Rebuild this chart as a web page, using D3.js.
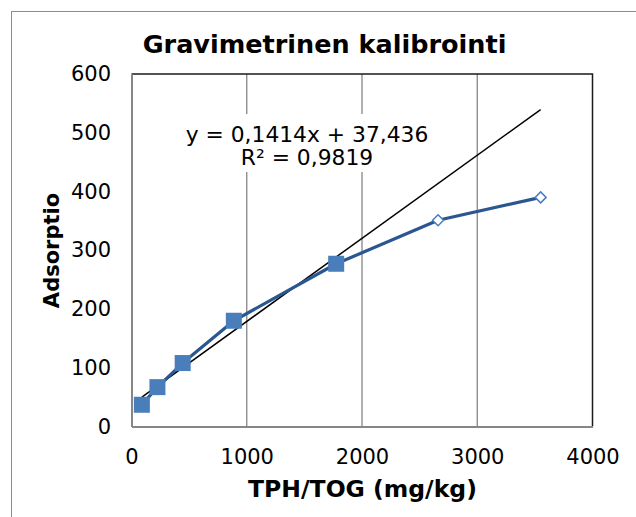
<!DOCTYPE html>
<html><head><meta charset="utf-8">
<script src="https://cdn.jsdelivr.net/npm/d3@7"></script>
<style>html,body{margin:0;padding:0;background:#fff;}svg{display:block;}</style>
</head><body>
<script>
const xValues = [90, 225, 444, 888, 1776, 2660, 3550];
const yValues = [37, 67, 108, 180, 277, 351, 390];
const markerTypes = ["square","square","square","square","square","diamond","diamond"];
const xTicks = [0, 1000, 2000, 3000, 4000];
const yTicks = [0, 100, 200, 300, 400, 500, 600];
const trendSlope = 0.1414, trendIntercept = 37.436;
const equationLines = ["y = 0,1414x + 37,436", "R\u00b2 = 0,9819"];
const title = "Gravimetrinen kalibrointi";
const xTitle = "TPH/TOG (mg/kg)";
const yTitle = "Adsorptio";

const W = 636, H = 517;
const m = {left:131.5, top:74, right:592.5, bottom:426.5};
const svg = d3.select("body").append("svg").attr("width", W).attr("height", H);
const font = "'DejaVu Sans', Verdana, sans-serif";

svg.append("rect").attr("x",0).attr("y",0).attr("width",W).attr("height",H).attr("fill","#fff");
svg.append("rect").attr("x",11.5).attr("y",11.5).attr("width",W).attr("height",H).attr("fill","none").attr("stroke","#8c8c8c").attr("stroke-width",1);

const x = d3.scaleLinear().domain([0,4000]).range([m.left, m.right]);
const y = d3.scaleLinear().domain([0,600]).range([m.bottom, m.top]);

svg.append("g").selectAll("line").data(xTicks.filter(d=>d>0 && d<4000)).join("line")
  .attr("x1",d=>x(d)).attr("x2",d=>x(d)).attr("y1",m.top).attr("y2",m.bottom)
  .attr("stroke","#868686").attr("stroke-width",1.3);

svg.append("path").attr("d",`M${m.left},${m.top}H${m.right}V${m.bottom}`)
  .attr("fill","none").attr("stroke","#1a1a1a").attr("stroke-width",1.5);

const xAxis = svg.append("g").attr("transform",`translate(0,${m.bottom})`)
  .call(d3.axisBottom(x).tickValues(xTicks).tickSize(0).tickFormat(d3.format("d")));
xAxis.selectAll("text").attr("y",37.5).attr("dy",0);
const yAxis = svg.append("g").attr("transform",`translate(${m.left},0)`)
  .call(d3.axisLeft(y).tickValues(yTicks).tickSize(0).tickPadding(20.5).tickFormat(d3.format("d")));
[xAxis,yAxis].forEach(a=>{
  a.select(".domain").attr("stroke","#868686").attr("stroke-width",2);
  a.selectAll("text").attr("font-family",font).attr("font-size",21).attr("fill","#000");
});

const xMin = d3.min(xValues), xMax = d3.max(xValues);
svg.append("line").attr("x1",x(xMin)).attr("y1",y(trendSlope*xMin+trendIntercept))
  .attr("x2",x(xMax)).attr("y2",y(trendSlope*xMax+trendIntercept))
  .attr("stroke","#000").attr("stroke-width",1.5);

const eq = svg.append("g");
eq.append("rect").attr("x",180).attr("y",114).attr("width",254).attr("height",58).attr("fill","#fff");
eq.selectAll("text").data(equationLines).join("text")
  .attr("x",307).attr("y",(d,i)=>141.5+i*23.5).attr("text-anchor","middle")
  .attr("font-family",font).attr("font-size",21.8).text(d=>d);

const pts = xValues.map((v,i)=>({x:v,y:yValues[i],t:markerTypes[i]}));
svg.append("path").datum(pts).attr("fill","none").attr("stroke","#2b5791").attr("stroke-width",3.2)
  .attr("stroke-linejoin","round")
  .attr("d", d3.line().x(d=>x(d.x)).y(d=>y(d.y)));

svg.append("g").selectAll("rect").data(pts.filter(d=>d.t==="square")).join("rect")
  .attr("x",d=>x(d.x)-8).attr("y",d=>y(d.y)-8).attr("width",16).attr("height",16)
  .attr("fill","#4a7ebb");
svg.append("g").selectAll("path").data(pts.filter(d=>d.t==="diamond")).join("path")
  .attr("transform",d=>`translate(${x(d.x)},${y(d.y)})`)
  .attr("d","M0,-5.5L5.5,0L0,5.5L-5.5,0Z")
  .attr("fill","#fff").attr("stroke","#4a7ebb").attr("stroke-width",1.5);

svg.append("text").attr("x",324.5).attr("y",53).attr("text-anchor","middle")
  .attr("font-family",font).attr("font-weight","bold").attr("font-size",25.5).text(title);
svg.append("text").attr("x",362.5).attr("y",497).attr("text-anchor","middle")
  .attr("font-family",font).attr("font-weight","bold").attr("font-size",23.5).text(xTitle);
svg.append("text").attr("transform","translate(59,250.5) rotate(-90)").attr("text-anchor","middle")
  .attr("font-family",font).attr("font-weight","bold").attr("font-size",21).text(yTitle);
</script>
</body></html>
